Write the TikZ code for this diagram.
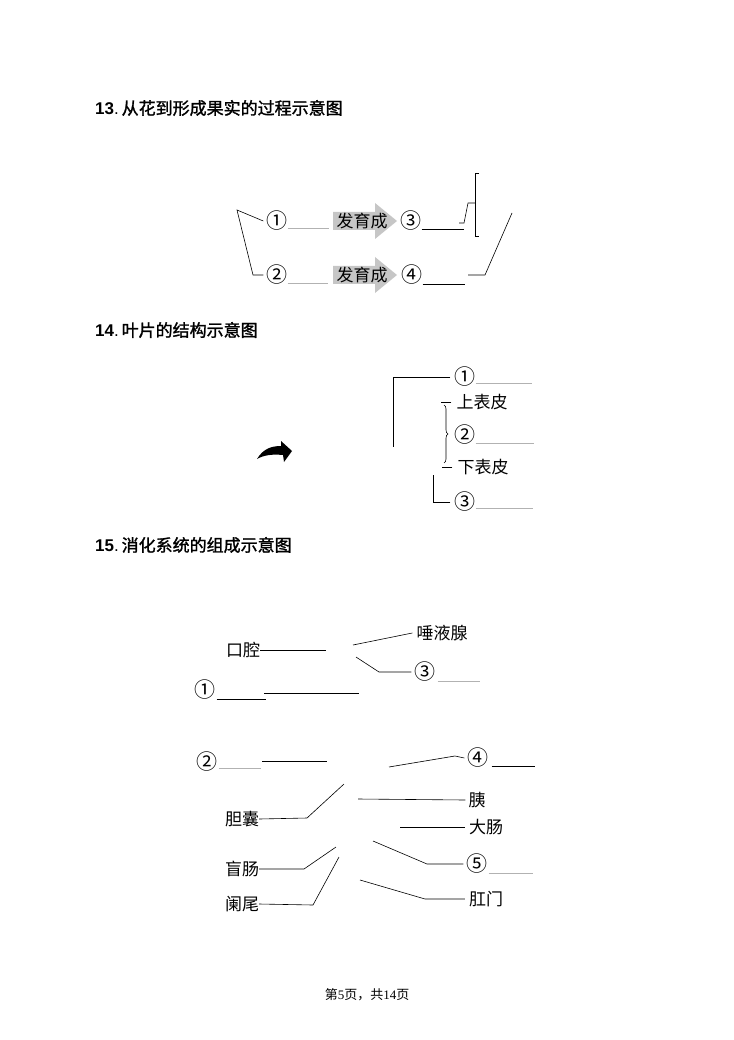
\documentclass[tikz,border=0pt]{standalone}
\usepackage{fontspec}
\setmainfont{Liberation Serif}
\newfontfamily\cjk{Noto Sans CJK SC}
\newfontfamily\cjkbf{Noto Sans CJK SC}[FakeBold=1.5]
\newfontfamily\headfont{Liberation Sans}
\usetikzlibrary{positioning,decorations.pathreplacing}

\begin{document}
\begin{tikzpicture}[x=1pt,y=-1pt,
  lbl/.style={font=\cjk\fontsize{17}{19}\selectfont,inner sep=0pt},
  num/.style={font=\cjk\fontsize{21}{23}\selectfont,inner sep=0pt},
  head/.style={anchor=west,inner sep=0pt,font=\fontsize{17}{19}\selectfont},
  ln/.style={line width=0.6pt},
  blank/.style={line width=0.9pt},
  gblank/.style={line width=0.8pt,gray!60},
  fa/.style={fill=gray!45,draw=none}
]
\useasboundingbox (0,0) rectangle (733,1040);
% 13: flower to fruit
\node[head] (t13) at (95,108) {{\headfont\bfseries 13}{\headfont .}\,{\cjkbf 从花到形成果实的过程示意图}};
\node[num] (n1) at (277,221) {①};
\node[num] (n2) at (277,275) {②};
\node[num] (n3) at (411,221) {③};
\node[num] (n4) at (412,275) {④};
\fill[fa] (333,212) -- ++(42,0) -- ++(0,-9) -- ++(22,18) -- ++(-22,18) -- ++(0,-9) -- ++(-42,0) -- cycle;
\fill[fa] (333,266) -- ++(42,0) -- ++(0,-9) -- ++(22,18) -- ++(-22,18) -- ++(0,-9) -- ++(-42,0) -- cycle;
\node[lbl] (g1) at (362,221) {发育成};
\node[lbl] (g2) at (362,275) {发育成};
\draw[gblank] (n1.east) ++(0,7) -- ++(41,0);
\draw[gblank] (n2.east) ++(0,8) -- ++(40,0);
\draw[blank] (n3.east) ++(0,8) -- ++(42,0);
\draw[blank] (n4.east) ++(0,9) -- ++(42,0);
\draw[ln] ([xshift=-3pt]n1.west) -- (237,210) -- (253,275) -- ([xshift=-3pt]n2.west);
\draw[ln] (459,223) -- (464,223) -- (468,203) -- (475,203);
\draw[ln] (479,173) -- (475,173) -- (475,236) -- (479,236);
\draw[ln] (512,213) -- (485,275) -- (468,275);
% 14: leaf structure
\node[head] (t14) at (95,330) {{\headfont\bfseries 14}{\headfont .}\,{\cjkbf 叶片的结构示意图}};
\node[num] (m1) at (465,377) {①};
\node[lbl] (up) at (482,402) {上表皮};
\node[num] (m2) at (465,435) {②};
\node[lbl] (lo) at (483,467) {下表皮};
\node[num] (m3) at (465,502) {③};
\draw[ln] ([xshift=-4pt]m1.west) -| (393,447);
\draw[ln] ([xshift=-5pt]up.west) -- ++(-10,0);
\draw[ln] ([xshift=-5pt]lo.west) -- ++(-10,0);
\draw[ln,decorate,decoration={brace,amplitude=4pt}] (444,405) -- (444,463);
\draw[ln] ([xshift=-4pt]m3.west) -| (433,475);
\draw[gblank] (m1.east) ++(0,6) -- ++(56,0);
\draw[gblank] (m2.east) ++(0,8) -- ++(58,0);
\draw[gblank] (m3.east) ++(0,6) -- ++(57,0);
\fill (257,459) .. controls (263,449) and (271,446) .. (281,446) -- (281,441)
  -- (292,451) -- (284,462) -- (283,455) .. controls (272,454) and (264,455) .. (257,459) -- cycle;
% 15: digestive system
\node[head] (t15) at (95,545) {{\headfont\bfseries 15}{\headfont .}\,{\cjkbf 消化系统的组成示意图}};
\node[lbl] (kq) at (243,650) {口腔};
\node[lbl] (ty) at (442,633) {唾液腺};
\node[num] (k3) at (425,672) {③};
\node[num] (k1) at (205,690) {①};
\node[num] (k2) at (207,762) {②};
\node[num] (k4) at (478,758) {④};
\node[lbl] (dn) at (242,819) {胆囊};
\node[lbl] (yi) at (477,800) {胰};
\node[lbl] (dc) at (486,827) {大肠};
\node[lbl] (mc) at (242,869) {盲肠};
\node[num] (k5) at (477,864) {⑤};
\node[lbl] (lw) at (242,904) {阑尾};
\node[lbl] (gm) at (486,899) {肛门};
\draw[ln] (kq.east) -- (326,650);
\draw[ln] (353,645) -- ([xshift=-4pt]ty.west);
\draw[ln] (356,657) -- (379,672) -- ([xshift=-3pt]k3.west);
\draw[gblank] (k3.east) ++(2,9) -- ++(42,0);
\draw[blank] (k1.east) ++(1,9) -- ++(49,0);
\draw[ln] (264,693) -- (359,693);
\draw[gblank] (k2.east) ++(1,6) -- ++(42,0);
\draw[ln] (262,761) -- (327,761);
\draw[ln] (389,767) -- (455,756) -- ([xshift=-3pt]k4.west);
\draw[blank] (k4.east) ++(3,8) -- ++(43,0);
\draw[ln] (dn.east) -- (307,818) -- (344,784);
\draw[ln] (358,799) -- ([xshift=-3pt]yi.west);
\draw[ln] (400,827) -- ([xshift=-4pt]dc.west);
\draw[ln] (mc.east) -- (304,869) -- (336,847);
\draw[ln] (373,841) -- (427,864) -- ([xshift=-3pt]k5.west);
\draw[gblank] (k5.east) ++(1,9) -- ++(44,0);
\draw[ln] (lw.east) -- (313,905) -- (339,857);
\draw[ln] (360,880) -- (425,899) -- ([xshift=-4pt]gm.west);
% page number
\node[inner sep=0pt,font=\fontsize{13}{15}\selectfont] (pg) at (367,995) {{\cjk 第}5{\cjk 页，共}14{\cjk 页}};
\end{tikzpicture}
\end{document}
